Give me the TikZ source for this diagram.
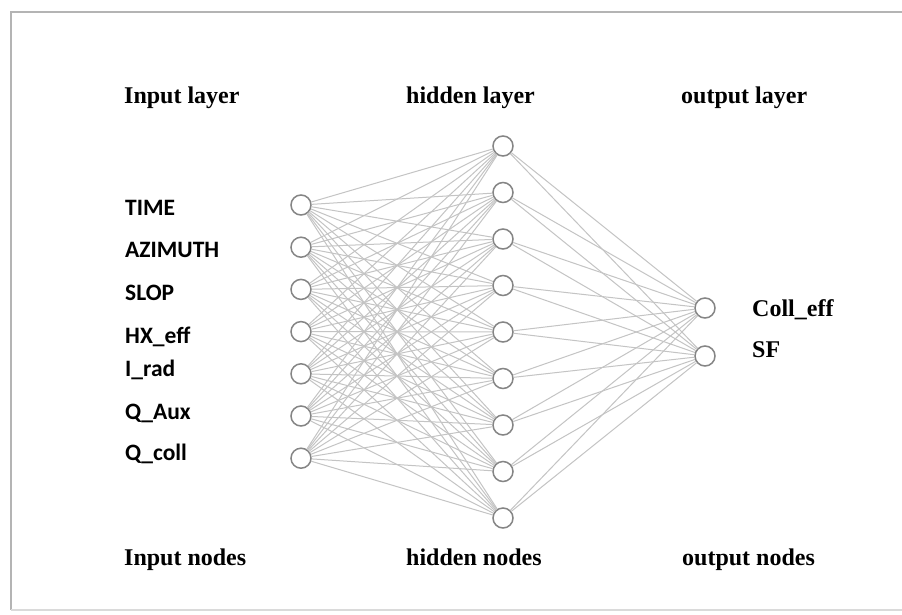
\documentclass[tikz,border=0pt]{standalone}
\usepackage{fontspec}
\newfontfamily\tnrfont{Liberation Serif}
\newfontfamily\calfont{Carlito}
\definecolor{edgegray}{HTML}{C4C4C4}
\definecolor{nodegray}{HTML}{858585}
\definecolor{framegray}{HTML}{B4B4B4}
\begin{document}
\begin{tikzpicture}[x=1pt,y=-1pt,
  neuron/.style={circle,draw=nodegray,line width=1.5pt,fill=white,minimum size=20pt,inner sep=0pt},
  conn/.style={draw=edgegray,line width=1pt},
  title/.style={anchor=base west,inner sep=0pt,font=\tnrfont\bfseries\fontsize{24}{28}\selectfont},
  inlabel/.style={anchor=base west,inner sep=0pt,font=\calfont\bfseries\fontsize{23.5}{27}\selectfont},
  outlabel/.style={anchor=base west,inner sep=0pt,font=\tnrfont\bfseries\fontsize{24}{28}\selectfont}]
\useasboundingbox (0,0) rectangle (902,614);
\fill[white] (0,0) rectangle (902,614);
% frame
\coordinate (ftl) at (11,12);
\coordinate (ftr) at (902,12);
\coordinate (fbl) at (11,610);
\coordinate (fbr) at (902,610);
\draw[framegray,line width=1.6pt] (ftr) -- (ftl) -- (fbl);
\draw[framegray!50,line width=1.2pt] (fbl) -- (fbr);
% titles
\node[title] (t1) at (124,103) {Input layer};
\node[title] (t2) at (406,103) {hidden layer};
\node[title] (t3) at (681,103) {output layer};
\node[title] (b1) at (124,565) {Input nodes};
\node[title] (b2) at (406,565) {hidden nodes};
\node[title] (b3) at (682,565) {output nodes};
% input labels
\node[inlabel] (l1) at (125,215) {TIME};
\node[inlabel] (l2) at (125,257) {AZIMUTH};
\node[inlabel] (l3) at (125,300.5) {SLOP};
\node[inlabel] (l4) at (125,343) {HX\_eff};
\node[inlabel] (l5) at (125,376.5) {I\_rad};
\node[inlabel] (l6) at (125,419) {Q\_Aux};
\node[inlabel] (l7) at (125,460.5) {Q\_coll};
% output labels
\node[outlabel] (o1l) at (752,316) {Coll\_eff};
\node[outlabel] (o2l) at (752,357) {SF};
% neurons
\foreach \i in {1,...,7} {
  \node[neuron] (i\i) at (301,{205+(\i-1)*42.2}) {};
}
\foreach \j in {1,...,9} {
  \node[neuron] (h\j) at (503,{146+(\j-1)*46.5}) {};
}
\node[neuron] (o1) at (705,308) {};
\node[neuron] (o2) at (705,356) {};
% connections
\foreach \i in {1,...,7} {
  \foreach \j in {1,...,9} {
    \path[conn] (i\i) -- (h\j);
  }
}
\foreach \j in {1,...,9} {
  \foreach \k in {1,2} {
    \path[conn] (h\j) -- (o\k);
  }
}
\end{tikzpicture}
\end{document}
